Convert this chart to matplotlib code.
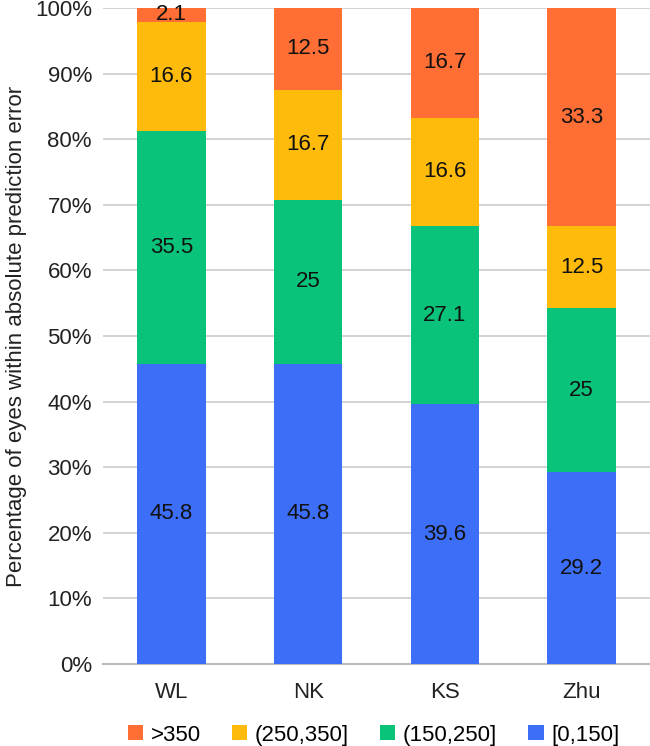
import matplotlib

matplotlib.use("Agg")
import matplotlib.pyplot as plt
import numpy as np

plt.rcParams["font.family"] = ["Liberation Sans", "DejaVu Sans"]

methods = ["WL", "NK", "KS", "Zhu"]
# error bands, bottom to top
bands = ["[0,150]", "(150,250]", "(250,350]", ">350"]
pct_0_150 = [45.8, 45.8, 39.6, 29.2]
pct_150_250 = [35.5, 25, 27.1, 25]
pct_250_350 = [16.6, 16.7, 16.6, 12.5]
pct_over_350 = [2.1, 12.5, 16.7, 33.3]
band_colors = ["#3D6EF8", "#09C37A", "#FEBB0C", "#FE6E35"]

series = [pct_0_150, pct_150_250, pct_250_350, pct_over_350]

fig = plt.figure(figsize=(6.5, 7.46), dpi=100)
ax = fig.add_axes([0.1585, 0.1099, 0.8415, 0.8794])

x = np.arange(len(methods))
bottom = np.zeros(len(methods))
handles = []
for vals, name, color in zip(series, bands, band_colors):
    vals = np.array(vals, dtype=float)
    h = ax.bar(x, vals, width=0.5, bottom=bottom, color=color, label=name, zorder=3)
    handles.append(h)
    for xi, b, v in zip(x, bottom, vals):
        ax.text(xi, b + v / 2, f"{v:g}", ha="center", va="center", fontsize=16, color="#111111", zorder=4)
    bottom += vals

ax.set_xlim(-0.5, 3.5)
ax.set_ylim(0, 100)
ax.set_yticks(np.arange(0, 101, 10))
ax.set_yticklabels([f"{t}%" for t in range(0, 101, 10)])
ax.set_xticks(x)
ax.set_xticklabels(methods)
ax.tick_params(axis="both", length=0, labelsize=16, colors="#222222")
ax.tick_params(axis="x", pad=13)
ax.tick_params(axis="y", pad=8)
ax.grid(axis="y", color="#cccccc", linewidth=1.2, zorder=0)
for s in ["top", "right", "left"]:
    ax.spines[s].set_visible(False)
ax.spines["bottom"].set_color("#bbbbbb")
ax.spines["bottom"].set_linewidth(1.5)
ax.set_ylabel("Percentage of eyes within absolute prediction error", fontsize=16, color="#222222", labelpad=6)

fig.legend(handles[::-1], bands[::-1], loc="center", bbox_to_anchor=(0.575, 0.0147), ncol=4,
           frameon=False, fontsize=16, handlelength=0.68, handleheight=0.68, columnspacing=1.4,
           handletextpad=0.35, borderpad=0)

fig.savefig("out.png", dpi=100)
